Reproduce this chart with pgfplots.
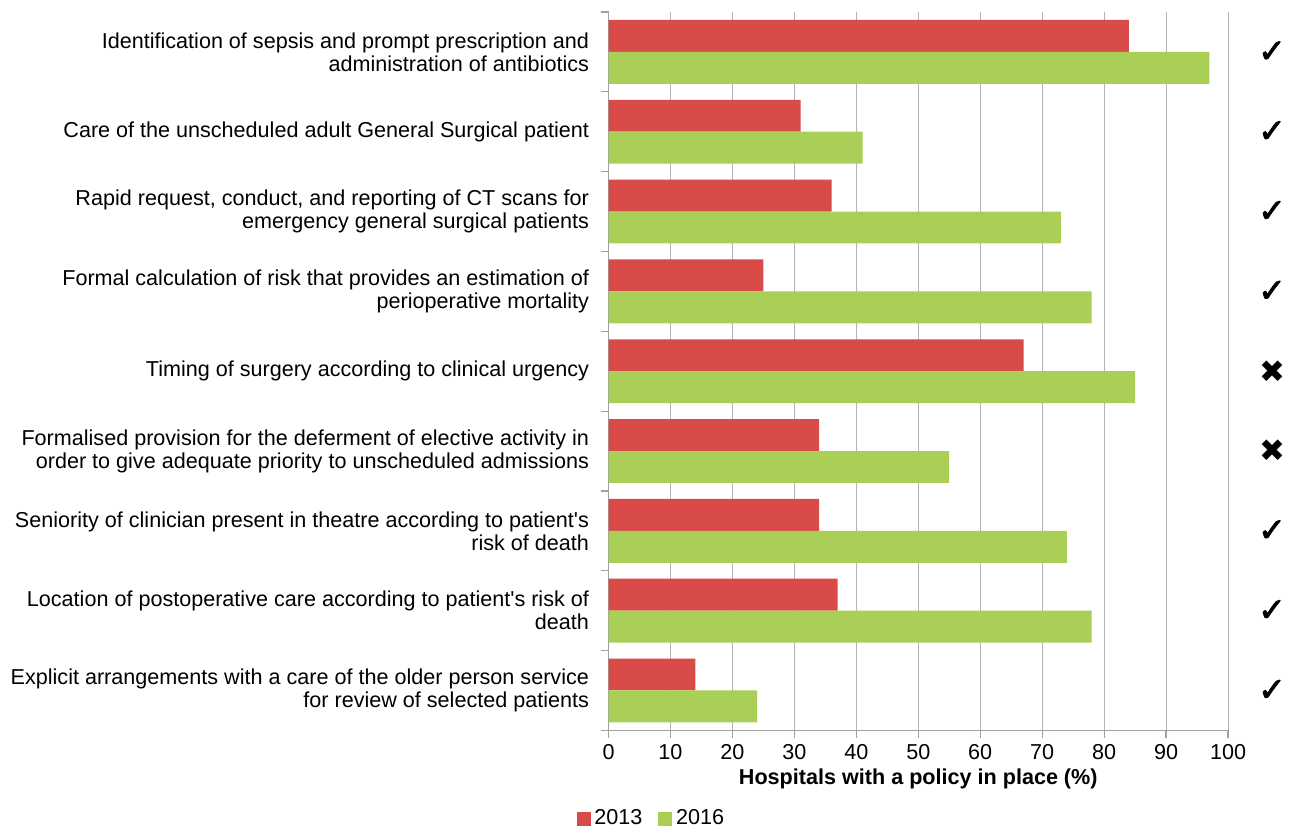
\documentclass[border=0pt]{standalone}
\usepackage{pgfplots}
\pgfplotsset{compat=1.18}
\usepackage{fontspec}
\setmainfont{Liberation Sans}
\newfontfamily\symfont{DejaVu Sans}
\newfontfamily\chkfont[FakeBold=2.5]{DejaVu Sans}
\definecolor{red13}{RGB}{216,75,72}
\definecolor{green16}{RGB}{170,207,86}
\definecolor{axgray}{RGB}{160,160,160}
\definecolor{gridgray}{RGB}{180,180,180}
\newcommand{\lf}{\fontsize{10.8}{11.5}\selectfont}
\newcommand{\ck}{{\chkfont\fontsize{16.5}{16.5}\selectfont ✓}}
\newcommand{\xx}{{\symfont\fontsize{15.5}{15.5}\selectfont ✖}}
\begin{document}
\lf
\begin{tikzpicture}
\begin{axis}[
  name=main,
  scale only axis,
  width=310pt, height=359.5pt,
  xmin=0, xmax=100,
  ymin=-0.5, ymax=8.5,
  y dir=reverse,
  xbar, bar width=0.4,
  axis x line*=bottom, axis y line*=left,
  axis line style={axgray, line width=0.6pt},
  xtick={0,10,...,100},
  xmajorgrids, grid style={gridgray, line width=0.5pt},
  ytick={-0.5,0.5,...,8.5},
  y tick label as interval,
  yticklabels={
    {Identification of sepsis and prompt prescription and\\administration of antibiotics},
    {Care of the unscheduled adult General Surgical patient},
    {Rapid request, conduct, and reporting of CT scans for\\emergency general surgical patients},
    {Formal calculation of risk that provides an estimation of\\perioperative mortality},
    {Timing of surgery according to clinical urgency},
    {Formalised provision for the deferment of elective activity in\\order to give adequate priority to unscheduled admissions},
    {Seniority of clinician present in theatre according to patient\textquotesingle s\\risk of death},
    {Location of postoperative care according to patient\textquotesingle s risk of\\death},
    {Explicit arrangements with a care of the older person service\\for review of selected patients}},
  yticklabel style={align=right, font=\lf, xshift=-2pt},
  xticklabel style={font=\lf, yshift=1pt},
  /pgf/number format/assume math mode=true,
  tick align=outside,
  major tick length=4pt,
  tick style={axgray, line width=0.6pt},
  xlabel={\bfseries Hospitals with a policy in place (\%)},
  xlabel style={font=\lf, yshift=2.5pt},
  clip=false,
  legend style={at={(0.071,-0.123)}, anchor=center, legend columns=2, draw=none,
    font=\lf, inner sep=0pt,
    /tikz/every even column/.append style={column sep=6pt}},
]
\addplot[fill=red13, draw=none, bar shift=-0.2,
  legend image code/.code={\fill[red13] (0pt,-3.4pt) rectangle (6.8pt,3.4pt);}]
  coordinates {(84,0) (31,1) (36,2) (25,3) (67,4) (34,5) (34,6) (37,7) (14,8)};
\addlegendentry{2013}
\addplot[fill=green16, draw=none, bar shift=0.2,
  legend image code/.code={\fill[green16] (0pt,-3.4pt) rectangle (6.8pt,3.4pt);}]
  coordinates {(97,0) (41,1) (73,2) (78,3) (85,4) (55,5) (74,6) (78,7) (24,8)};
\addlegendentry{2016}
\path[draw=none] (rel axis cs:-0.9823,-0.1349) rectangle (rel axis cs:1.1032,1.0167);
\end{axis}
\begin{axis}[
  scale only axis,
  width=310pt, height=359.5pt,
  xmin=0, xmax=100,
  ymin=-0.5, ymax=8.5,
  y dir=reverse,
  hide x axis,
  axis y line*=right,
  y axis line style={draw=none},
  ytick={0,...,8},
  ytick style={draw=none},
  yticklabels={\ck,\ck,\ck,\ck,\xx,\xx,\ck,\ck,\ck},
  yticklabel style={anchor=center, xshift=22pt},
]
\end{axis}
\end{tikzpicture}
\end{document}
